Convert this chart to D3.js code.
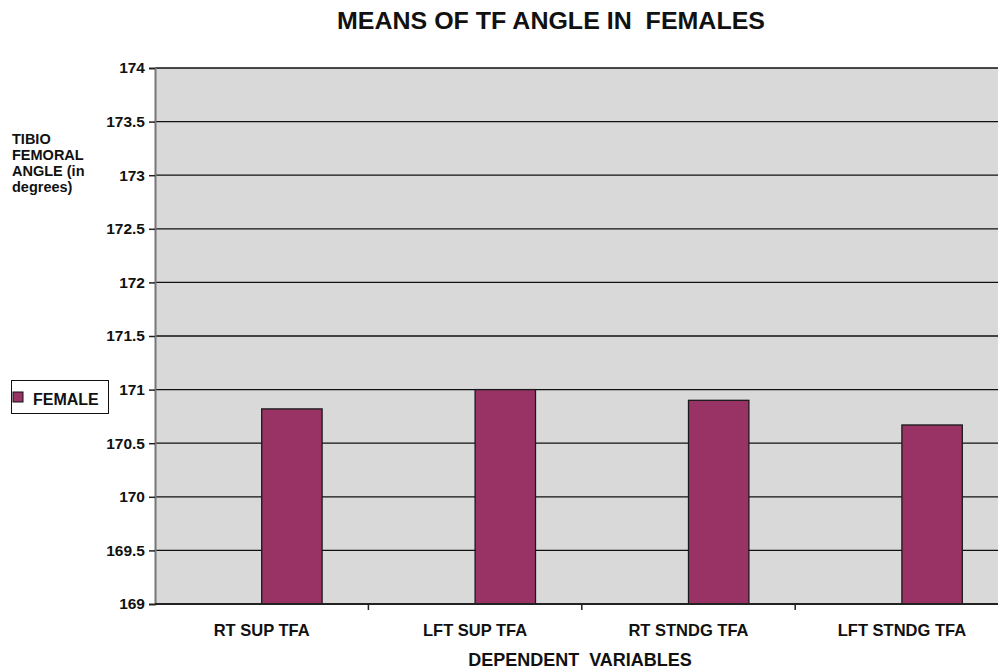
<!DOCTYPE html>
<html>
<head>
<meta charset="utf-8">
<script src="https://cdn.jsdelivr.net/npm/d3@7"></script>
<style>
  body { margin: 0; background: #fff; }
  svg text { font-family: "Liberation Sans", Arial, sans-serif; font-weight: bold; fill: #111; }
</style>
</head>
<body>
<svg width="998" height="670"></svg>
<script>
// data
var categories = ["RT SUP TFA", "LFT SUP TFA", "RT STNDG TFA", "LFT STNDG TFA"];
var femaleMeans = [170.82, 171.0, 170.9, 170.67];
var yTicks = [169, 169.5, 170, 170.5, 171, 171.5, 172, 172.5, 173, 173.5, 174];
var yTitleLines = ["TIBIO", "FEMORAL", "ANGLE (in", "degrees)"];

var svg = d3.select("svg");

// plot box (runs past the right edge like the original)
var plotLeft = 155, plotTop = 68, plotBottom = 604, bandW = 213.4;
var plotRight = plotLeft + bandW * categories.length;

var x = d3.scaleBand().domain(categories).range([plotLeft, plotRight]).padding(0);
var y = d3.scaleLinear().domain([169, 174]).range([plotBottom, plotTop]);

// background
svg.append("rect")
  .attr("x", plotLeft).attr("y", plotTop)
  .attr("width", plotRight - plotLeft).attr("height", plotBottom - plotTop)
  .attr("fill", "#d9d9d9");

// grid lines
svg.append("g").selectAll("line")
  .data(yTicks.filter(d => d > 169))
  .enter().append("line")
    .attr("x1", plotLeft).attr("x2", plotRight)
    .attr("y1", d => y(d)).attr("y2", d => y(d))
    .attr("stroke", "#111").attr("stroke-width", 1.3);

// bars
svg.append("g").selectAll("rect")
  .data(femaleMeans)
  .enter().append("rect")
    .attr("x", (d, i) => x(categories[i]) + x.bandwidth() * 0.5)
    .attr("width", x.bandwidth() * 0.283)
    .attr("y", d => y(d))
    .attr("height", d => plotBottom - y(d))
    .attr("fill", "#993366")
    .attr("stroke", "#1a1a1a").attr("stroke-width", 1.3);

// y axis
var yAxis = svg.append("g")
  .attr("transform", "translate(" + plotLeft + ",0)")
  .call(d3.axisLeft(y).tickValues(yTicks).tickSize(6).tickPadding(4)
    .tickFormat(d3.format("")));
yAxis.select(".domain").attr("stroke", "#777").attr("stroke-width", 2);
yAxis.selectAll(".tick line").attr("stroke", "#222").attr("stroke-width", 1.5);
yAxis.selectAll("text").attr("font-size", 15.5).attr("fill", "#1a1a1a")
  .attr("font-family", "Liberation Sans, Arial, sans-serif");

// x axis
var xBounds = categories.map(c => x(c)).slice(1);
var xAxis = svg.append("g");
xAxis.append("line")
  .attr("x1", plotLeft).attr("x2", plotRight)
  .attr("y1", plotBottom).attr("y2", plotBottom)
  .attr("stroke", "#222").attr("stroke-width", 2);
xAxis.selectAll("line.tk")
  .data(xBounds)
  .enter().append("line")
    .attr("class", "tk")
    .attr("x1", d => d).attr("x2", d => d)
    .attr("y1", plotBottom).attr("y2", plotBottom + 6)
    .attr("stroke", "#222").attr("stroke-width", 1.5);
xAxis.selectAll("text")
  .data(categories)
  .enter().append("text")
    .attr("x", d => x(d) + x.bandwidth() / 2)
    .attr("y", 636)
    .attr("text-anchor", "middle")
    .attr("font-size", 16.5)
    .text(d => d);

// titles
svg.append("text")
  .attr("x", 551).attr("y", 29)
  .attr("text-anchor", "middle")
  .attr("font-size", 23)
  .attr("fill", "#000")
  .attr("textLength", 428)
  .attr("lengthAdjust", "spacingAndGlyphs")
  .attr("xml:space", "preserve")
  .style("white-space", "pre")
  .text("MEANS OF TF ANGLE IN  FEMALES");

svg.append("text")
  .attr("x", 580).attr("y", 666)
  .attr("text-anchor", "middle")
  .attr("font-size", 18)
  .attr("xml:space", "preserve")
  .style("white-space", "pre")
  .text("DEPENDENT  VARIABLES");

svg.append("g").selectAll("text")
  .data(yTitleLines)
  .enter().append("text")
    .attr("x", 12)
    .attr("y", (d, i) => 144 + i * 16)
    .attr("font-size", 14.5)
    .text(d => d);

// legend
var legend = svg.append("g");
legend.append("rect")
  .attr("x", 11.5).attr("y", 380.5).attr("width", 97).attr("height", 33)
  .attr("fill", "#fff").attr("stroke", "#111").attr("stroke-width", 1);
legend.append("rect")
  .attr("x", 13).attr("y", 392).attr("width", 10).attr("height", 10)
  .attr("fill", "#993366").attr("stroke", "#111").attr("stroke-width", 1);
legend.append("text")
  .attr("x", 33).attr("y", 405)
  .attr("font-size", 16)
  .text("FEMALE");
</script>
</body>
</html>
